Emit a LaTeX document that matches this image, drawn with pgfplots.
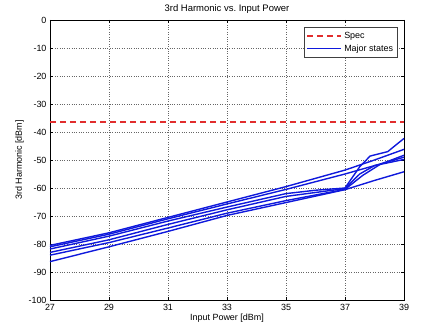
\documentclass[border=0pt]{standalone}
\usepackage{pgfplots}
\pgfplotsset{compat=1.18}
\usepackage{fontspec}
\setmainfont{Liberation Sans}
\usetikzlibrary{calc}
\definecolor{specred}{RGB}{225,45,45}
\definecolor{lineblue}{RGB}{15,25,220}
\begin{document}
\begin{tikzpicture}
\begin{axis}[
  name=ax,
  scale only axis,
  width=354bp, height=280bp,
  xmin=27, xmax=39, ymin=-100, ymax=0,
  xtick={27,29,...,39},
  ytick={-100,-90,...,0},
  tick align=inside,
  major tick length=3bp,
  tick style={black, line width=0.5pt},
  axis line style={black, line width=0.7pt},
  grid=major,
  grid style={dotted, black!60, line width=0.6pt},
  /pgf/number format/assume math mode=true,
  tick label style={font=\fontsize{9}{10}\selectfont},
  xticklabel style={yshift=-1bp},
  title={3rd Harmonic vs.\ Input Power},
  title style={font=\fontsize{9.5}{10}\selectfont, yshift=-3bp},
  xlabel={Input Power [dBm]},
  ylabel={3rd Harmonic [dBm]},
  xlabel style={font=\fontsize{9}{10}\selectfont, yshift=4bp},
  ylabel style={font=\fontsize{9}{10}\selectfont, yshift=-2bp},
  legend style={at={(rel axis cs:0.983,0.975)}, anchor=north east,
    font=\fontsize{9}{10}\selectfont, draw=black!75, line width=0.8pt,
    inner sep=2.5bp, row sep=1bp},
  legend cell align=left,
  legend image code/.code={\draw[#1] (0bp,0bp) -- (34bp,0bp);},
]
\addplot[color=specred, dash pattern=on 6bp off 4bp, line width=1.8pt] coordinates {(27,-36.3) (39,-36.3)};
\addlegendentry{Spec}
\addplot[lineblue, line width=1.4pt] coordinates {(27,-80.5)(29,-76)(31,-70.5)(33,-65)(35,-59.5)(37,-53.6)(38,-50)(39,-46.2)};
\addlegendentry{Major states}
\addplot[lineblue, line width=1.4pt] coordinates {(27,-81)(29,-76.5)(31,-71)(33,-65.7)(35,-60.5)(37,-55)(38,-52)(39,-49)};
\addplot[lineblue, line width=1.4pt] coordinates {(27,-81.8)(29,-77.2)(31,-71.8)(33,-66.8)(35,-62)(36,-60.8)(37,-60)(37.5,-52.4)(37.85,-48.6)(38.45,-47)(38.8,-44)(39,-42.3)};
\addplot[lineblue, line width=1.4pt] coordinates {(27,-83)(29,-78.5)(31,-73)(33,-67.8)(35,-63)(37,-60.2)(37.5,-55)(38,-52)(39,-49.8)};
\addplot[lineblue, line width=1.4pt] coordinates {(27,-84)(29,-79.5)(31,-74.3)(33,-69)(35,-64.5)(37,-60.5)(37.6,-55.5)(38.2,-51.5)(39,-48.3)};
\addplot[lineblue, line width=1.4pt] coordinates {(27,-86.3)(29,-81)(31,-75.5)(33,-69.8)(35,-65.2)(37,-60.6)(38,-57.3)(39,-54.2)};
\end{axis}
\pgfresetboundingbox
\path[use as bounding box] ($(ax.south west)+(-50bp,-33bp)$) rectangle ($(ax.north east)+(18bp,20bp)$);
\end{tikzpicture}
\end{document}
